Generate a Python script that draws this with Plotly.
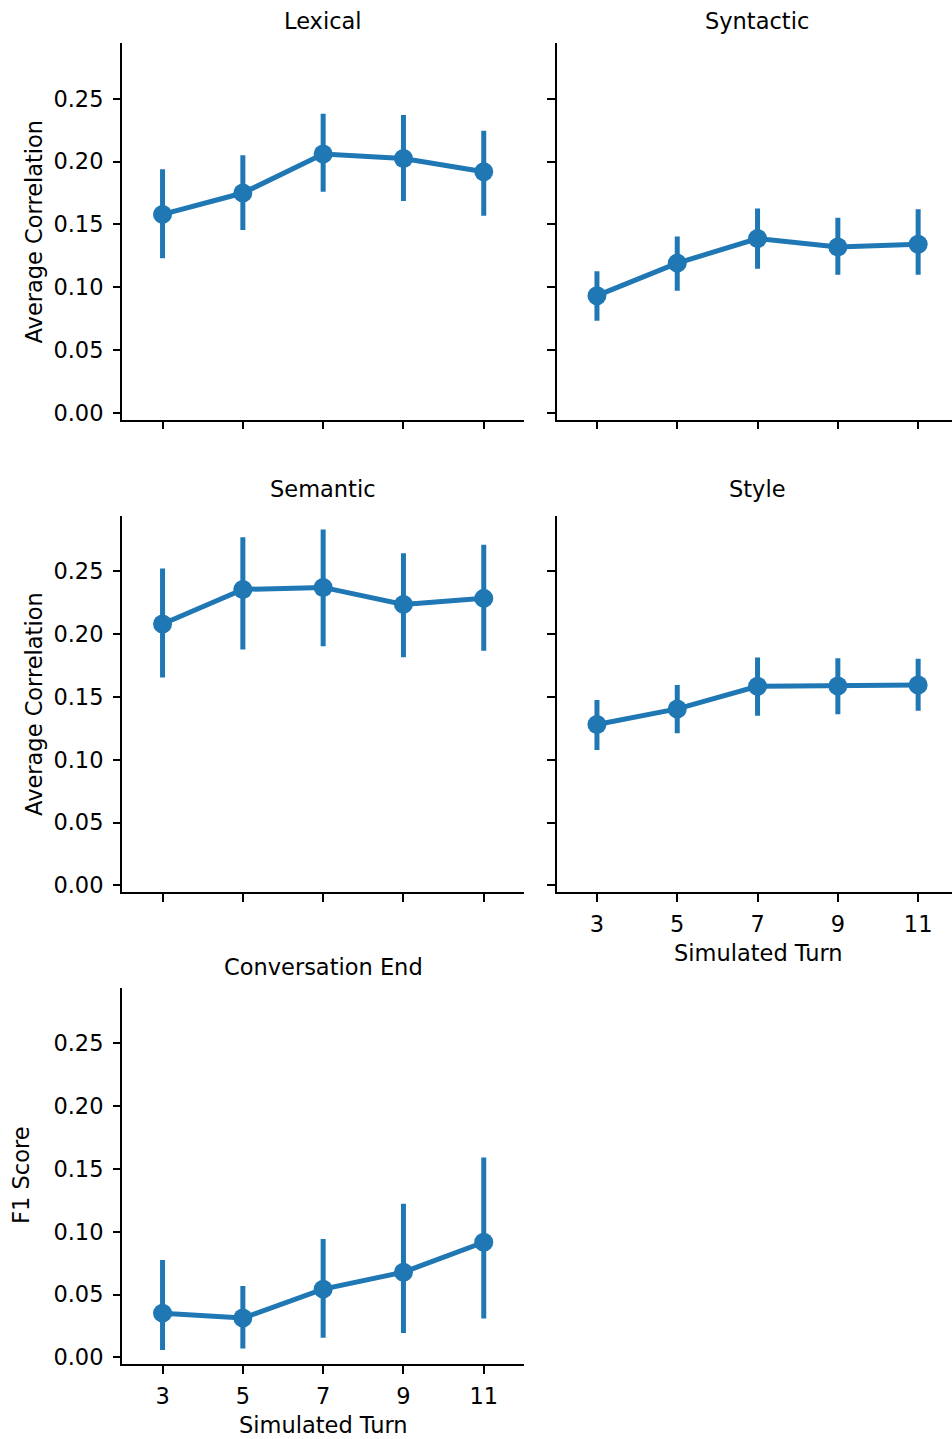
import plotly.graph_objects as go

turns = [3, 5, 7, 9, 11]
panel_titles = ["Lexical", "Syntactic", "Semantic", "Style", "Conversation End"]

lexical_mean = [0.158, 0.175, 0.206, 0.2025, 0.192]
lexical_lo = [0.123, 0.1455, 0.176, 0.1686, 0.157]
lexical_hi = [0.194, 0.205, 0.238, 0.237, 0.2245]

syntactic_mean = [0.0933, 0.1192, 0.1388, 0.1321, 0.1343]
syntactic_lo = [0.0734, 0.0972, 0.1147, 0.1099, 0.1099]
syntactic_hi = [0.1128, 0.1404, 0.1626, 0.1554, 0.162]

semantic_mean = [0.208, 0.2355, 0.2371, 0.2236, 0.2284]
semantic_lo = [0.1655, 0.1877, 0.1903, 0.1816, 0.1866]
semantic_hi = [0.2522, 0.277, 0.2831, 0.2643, 0.271]

style_mean = [0.128, 0.1404, 0.1584, 0.1586, 0.1594]
style_lo = [0.1078, 0.1211, 0.135, 0.1362, 0.139]
style_hi = [0.1475, 0.1594, 0.1814, 0.1808, 0.1803]

convend_mean = [0.0352, 0.0313, 0.0543, 0.0678, 0.0916]
convend_lo = [0.0058, 0.0071, 0.0156, 0.0194, 0.031]
convend_hi = [0.0775, 0.0569, 0.0942, 0.1222, 0.159]

yticks = [0.0, 0.05, 0.10, 0.15, 0.20, 0.25]
ytick_text = ["0.00", "0.05", "0.10", "0.15", "0.20", "0.25"]

W, H = 952, 1439
BLUE = "#1f77b4"
FONT = "DejaVu Sans"
FS = 22.5

def fx(px):
    return px / W

def fy(py):
    return 1 - py / H

# axes geometry in pixels
col_x = [(122.4, 523.6), (556.8, 952.0)]
row_top = [43.3, 517.7, 991.7]
title_gap = [7, 12, 6]
row_h = 378.3
yrange = [-0.0055, 0.2943]
x_unit = 40.15  # px per turn unit

series = [
    (lexical_mean, lexical_lo, lexical_hi),
    (syntactic_mean, syntactic_lo, syntactic_hi),
    (semantic_mean, semantic_lo, semantic_hi),
    (style_mean, style_lo, style_hi),
    (convend_mean, convend_lo, convend_hi),
]
positions = [(0, 0), (0, 1), (1, 0), (1, 1), (2, 0)]

fig = go.Figure()
annotations = []
layout = {}

for i, ((m, lo, hi), (r, c)) in enumerate(zip(series, positions)):
    k = "" if i == 0 else str(i + 1)
    fig.add_trace(go.Scatter(
        x=turns, y=m, mode="lines+markers",
        line=dict(color=BLUE, width=5),
        marker=dict(color=BLUE, size=19),
        error_y=dict(type="data", symmetric=False,
                     array=[h - v for h, v in zip(hi, m)],
                     arrayminus=[v - l for v, l in zip(m, lo)],
                     thickness=5, width=0, color=BLUE),
        xaxis="x" + k, yaxis="y" + k, showlegend=False,
    ))
    x0, x1 = col_x[c]
    top = row_top[r]
    bot = top + row_h
    xr = [2, 2 + (x1 - x0) / x_unit]
    show_xlabels = (i == 3 or i == 4)
    layout["xaxis" + k] = dict(
        domain=[fx(x0), fx(x1)], range=xr, anchor="y" + k,
        tickvals=turns, ticktext=[str(t) for t in turns],
        showticklabels=show_xlabels,
        ticks="outside", ticklen=7.5, tickwidth=1.8, tickcolor="black",
        showline=True, linewidth=1.8, linecolor="black",
        showgrid=False, zeroline=False,
        tickfont=dict(family=FONT, size=FS, color="black"),
        ticklabelstandoff=3,
    )
    layout["yaxis" + k] = dict(
        domain=[fy(bot), fy(top)], range=yrange, anchor="x" + k,
        tickvals=yticks, ticktext=ytick_text,
        showticklabels=(c == 0),
        ticks="outside", ticklen=7.5, tickwidth=1.8, tickcolor="black",
        showline=True, linewidth=1.8, linecolor="black",
        showgrid=False, zeroline=False,
        tickfont=dict(family=FONT, size=FS, color="black"),
        ticklabelstandoff=5,
    )
    # panel title
    annotations.append(dict(
        text=panel_titles[i], x=fx((col_x[c][0] + (col_x[c][0] + 401.2)) / 2),
        y=fy(top - title_gap[r]), xref="paper", yref="paper",
        xanchor="center", yanchor="bottom", showarrow=False,
        font=dict(family=FONT, size=FS, color="black"),
    ))

# y axis titles
annotations.append(dict(text="Average Correlation", x=fx(34), y=fy(43.3 + row_h / 2),
                        xref="paper", yref="paper", textangle=-90,
                        xanchor="center", yanchor="middle", showarrow=False,
                        font=dict(family=FONT, size=FS, color="black")))
annotations.append(dict(text="Average Correlation", x=fx(34), y=fy(517.7 + row_h / 2),
                        xref="paper", yref="paper", textangle=-90,
                        xanchor="center", yanchor="middle", showarrow=False,
                        font=dict(family=FONT, size=FS, color="black")))
annotations.append(dict(text="F1 Score", x=fx(21), y=fy(991.7 + row_h / 2),
                        xref="paper", yref="paper", textangle=-90,
                        xanchor="center", yanchor="middle", showarrow=False,
                        font=dict(family=FONT, size=FS, color="black")))
# x axis titles
annotations.append(dict(text="Simulated Turn", x=fx(758), y=fy(957),
                        xref="paper", yref="paper",
                        xanchor="center", yanchor="middle", showarrow=False,
                        font=dict(family=FONT, size=FS, color="black")))
annotations.append(dict(text="Simulated Turn", x=fx(323), y=fy(1431),
                        xref="paper", yref="paper",
                        xanchor="center", yanchor="middle", showarrow=False,
                        font=dict(family=FONT, size=FS, color="black")))

fig.update_layout(
    width=W, height=H,
    margin=dict(l=0, r=0, t=0, b=0),
    paper_bgcolor="white", plot_bgcolor="white",
    annotations=annotations,
    **layout,
)

fig.write_html("out.html")
